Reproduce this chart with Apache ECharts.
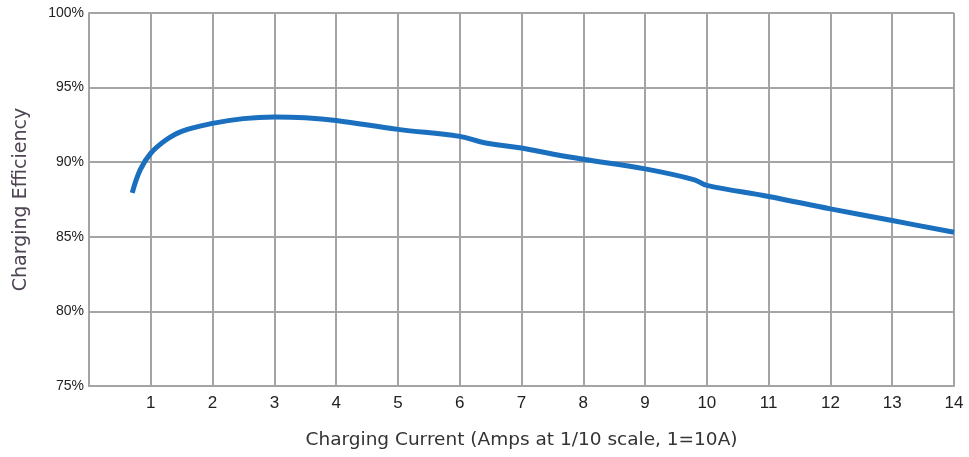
<!DOCTYPE html>
<html lang="en">
<head>
    <meta charset="UTF-8">
    <title>Charging Efficiency</title>
    <style>
      * { padding: 0; margin: 0; }
      body { background: #fff; }
    </style>
</head>
<body>
    <div id="main" style="width: 969px;height:457px;"></div>
    <script src="https://cdn.jsdelivr.net/npm/echarts@6/dist/echarts.min.js"></script>
    <script>
        // charging current (1 = 10A) vs efficiency (%)
        var current = [0.7, 0.83, 1.0, 1.25, 1.5, 2, 2.5, 3, 3.5, 4, 5, 6, 6.4, 7, 7.5, 8, 9, 9.8, 10, 11, 12, 13, 14];
        var efficiency = [87.95, 89.5, 90.6, 91.5, 92.07, 92.6, 92.92, 93.03, 92.98, 92.8, 92.2, 91.73, 91.3, 90.95, 90.55, 90.2, 89.55, 88.82, 88.45, 87.7, 86.87, 86.09, 85.3];
        var yTicks = [75, 80, 85, 90, 95, 100];

        var points = current.map(function (x, i) { return [x, efficiency[i]]; });
        var gridColor = '#a4a4a6';

        var option = {
            animation: false,
            grid: { left: 89, right: 15, top: 13, bottom: 71 },
            xAxis: {
                type: 'value',
                min: 0,
                max: 14,
                interval: 1,
                name: 'Charging Current (Amps at 1/10 scale, 1=10A)',
                nameLocation: 'middle',
                nameGap: 45,
                nameTextStyle: { color: '#333', fontSize: 18.5, fontFamily: 'DejaVu Sans' },
                axisLine: { lineStyle: { color: gridColor, width: 2 } },
                axisTick: { show: false },
                axisLabel: {
                    color: '#222',
                    fontSize: 17,
                    fontFamily: 'Liberation Sans',
                    margin: 9,
                    formatter: function (v) { return v === 0 ? '' : v; }
                },
                splitLine: { show: true, lineStyle: { color: gridColor, width: 2 } }
            },
            yAxis: {
                type: 'value',
                min: yTicks[0],
                max: yTicks[yTicks.length - 1],
                interval: 5,
                name: 'Charging Efficiency',
                nameLocation: 'middle',
                nameGap: 58,
                nameTextStyle: { color: '#4f4452', fontSize: 19, fontFamily: 'DejaVu Sans' },
                axisLine: { show: true, lineStyle: { color: gridColor, width: 2 } },
                axisTick: { show: false },
                axisLabel: {
                    color: '#222',
                    fontSize: 14,
                    fontFamily: 'Liberation Sans',
                    margin: 5,
                    formatter: '{value}%'
                },
                splitLine: { show: true, lineStyle: { color: gridColor, width: 2 } }
            },
            series: [{
                type: 'line',
                data: points,
                smooth: 0.4,
                symbol: 'none',
                lineStyle: { color: '#1b6fbf', width: 5 }
            }]
        };

        var myChart = echarts.init(document.getElementById('main'));
        myChart.setOption(option);
    </script>
</body>
</html>
